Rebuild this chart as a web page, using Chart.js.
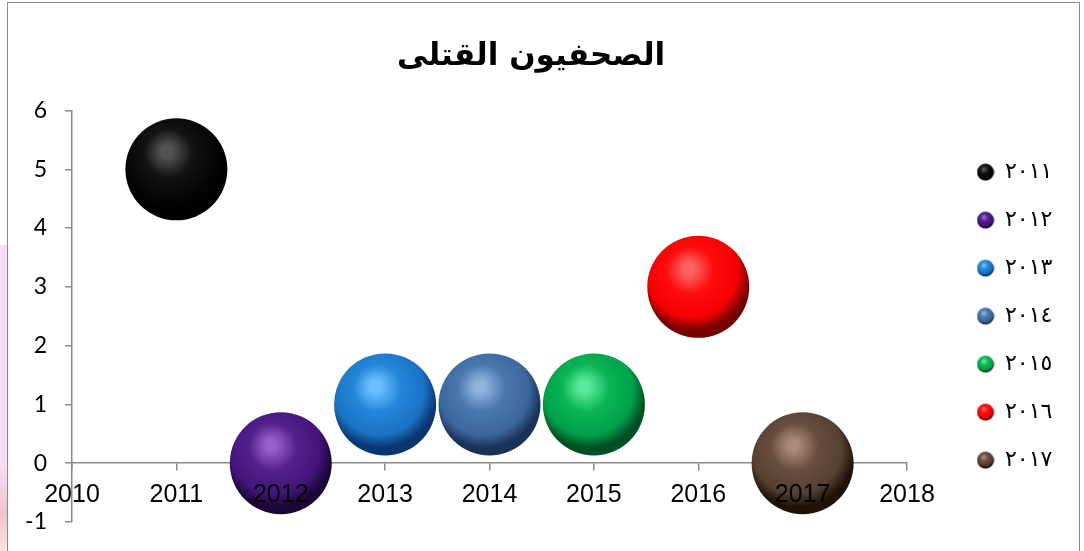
<!DOCTYPE html>
<html lang="ar">
<head>
<meta charset="utf-8">
<title>الصحفيون القتلى</title>
<script src="https://cdn.jsdelivr.net/npm/chart.js@4/dist/chart.umd.min.js"></script>
<style>
  html, body { margin: 0; padding: 0; background: #ffffff; overflow: hidden; }
  #wrap { position: relative; width: 1084px; height: 551px; }
  #side { position: absolute; left: 0; top: 245px; width: 7px; height: 306px;
          background: linear-gradient(to bottom, #f9dcf5 0%, #f9dcf5 72%, #f3c3cc 88%, #fbe3e6 100%); }
  #chart { position: absolute; left: 0; top: 0; }
  #frame { position: absolute; left: 7px; top: 2px; width: 1071px; height: 570px;
           border: 1px solid #8a8a8a; pointer-events: none; }
</style>
</head>
<body>
<div id="wrap">
  <div id="side"></div>
  <canvas id="chart" width="1084" height="551"></canvas>
  <div id="frame"></div>
</div>
<script>
// Journalists killed per year
const seriesLabels = ['٢٠١١', '٢٠١٢', '٢٠١٣', '٢٠١٤', '٢٠١٥', '٢٠١٦', '٢٠١٧'];
const years = [2011, 2012, 2013, 2014, 2015, 2016, 2017];
const killed = [5, 0, 1, 1, 1, 3, 0];
const bubbleSize = [1, 1, 1, 1, 1, 1, 1];
const xRange = [2010, 2018];
const yRange = [-1, 6];

// Sphere shading colours per series (highlight, body, shadow)
const shades = [
  { hi: '#545454', mid: '#141414', base: '#050505', dark: '#000000' },
  { hi: '#9560cc', mid: '#53208c', base: '#43157a', dark: '#1c0638' },
  { hi: '#6cc0ff', mid: '#2486da', base: '#1a72c4', dark: '#0a3670' },
  { hi: '#8fb3de', mid: '#4a77ae', base: '#3d679c', dark: '#1a3258' },
  { hi: '#5ae89c', mid: '#0ab556', base: '#00a04a', dark: '#004f22' },
  { hi: '#ff6262', mid: '#ff0c0c', base: '#f40000', dark: '#760000' },
  { hi: '#aa8a7a', mid: '#684e3e', base: '#56402f', dark: '#211208' }
];
const BUBBLE_RADIUS = 51;

function sphereGradient(ctx, cx, cy, r, s) {
  const g = ctx.createRadialGradient(cx - 0.2 * r, cy - 0.36 * r, 0,
                                     cx - 0.08 * r, cy - 0.25 * r, 1.3 * r);
  g.addColorStop(0, s.hi);
  g.addColorStop(0.08, s.hi);
  g.addColorStop(0.36, s.mid);
  g.addColorStop(0.68, s.base);
  g.addColorStop(0.86, s.dark);
  g.addColorStop(1, s.dark);
  return g;
}

function legendIcon(s) {
  const c = document.createElement('canvas');
  c.width = 18; c.height = 18;
  const cx = c.getContext('2d');
  cx.fillStyle = sphereGradient(cx, 9, 9, 8.5, s);
  cx.beginPath();
  cx.arc(9, 9, 8.5, 0, Math.PI * 2);
  cx.fill();
  return c;
}
const legendIcons = shades.map(legendIcon);

// Legend metrics: the legend box width follows its widest label
const LEGEND_FONT = { family: '"DejaVu Sans", sans-serif', size: 22 };
const LEGEND_PAD = 26;
const LEGEND_BOX = 17;
const measure = document.createElement('canvas').getContext('2d');
measure.font = LEGEND_FONT.size + 'px ' + LEGEND_FONT.family;
const legendTextW = Math.max(...seriesLabels.map(t => measure.measureText(t).width));
const legendW = LEGEND_PAD + LEGEND_BOX + LEGEND_FONT.size / 2 + legendTextW + 10;
const PLOT_RIGHT = 907;
const LEGEND_LEFT = 951;
const RIGHT_PAD = 1084 - LEGEND_LEFT - legendW;

const datasets = seriesLabels.map((label, i) => ({
  label,
  data: [{ x: years[i], y: killed[i], r: bubbleSize[i] * BUBBLE_RADIUS }],
  xAxisID: 'x',
  yAxisID: 'y',
  borderWidth: 0,
  hoverBorderWidth: 0,
  hoverRadius: 0,
  clip: false,
  backgroundColor: (ctx) => {
    const s = shades[i];
    const chart = ctx.chart;
    if (ctx.type !== 'data' || !chart.scales.x || !chart.scales.y) return s.base;
    const px = chart.scales.x.getPixelForValue(ctx.raw.x);
    const py = chart.scales.y.getPixelForValue(ctx.raw.y);
    if (!isFinite(px) || !isFinite(py)) return s.base;
    return sphereGradient(chart.ctx, px, py, ctx.raw.r, s);
  }
}));

const axisGrey = '#8a8a8a';
// axes pinned at y = 0 take no layout space of their own
const flatX = (s) => { s.height = 0; s.paddingLeft = 0; s.paddingRight = 0; };

new Chart(document.getElementById('chart'), {
  type: 'bubble',
  data: { datasets },
  options: {
    responsive: false,
    animation: false,
    events: [],
    layout: { autoPadding: false, padding: { left: 0, right: RIGHT_PAD, top: 0, bottom: 29 } },
    plugins: {
      tooltip: { enabled: false },
      title: {
        display: true,
        text: 'الصحفيون القتلى',
        color: '#000000',
        font: { family: '"DejaVu Sans", sans-serif', size: 31, weight: 'bold', lineHeight: 1.2 },
        padding: { top: 38, bottom: 35.3 }
      },
      legend: {
        position: 'right',
        align: 'center',
        fullSize: false,
        labels: {
          usePointStyle: true,
          pointStyleWidth: LEGEND_BOX,
          padding: LEGEND_PAD,
          color: '#000000',
          font: LEGEND_FONT,
          generateLabels: (chart) => chart.data.datasets.map((ds, i) => ({
            text: ds.label,
            datasetIndex: i,
            pointStyle: legendIcons[i],
            fillStyle: 'rgba(0,0,0,0)',
            strokeStyle: 'rgba(0,0,0,0)',
            lineWidth: 0,
            fontColor: '#000000',
            hidden: !chart.isDatasetVisible(i)
          }))
        }
      }
    },
    scales: {
      x: {
        type: 'linear',
        min: xRange[0],
        max: xRange[1],
        position: { y: 0 },
        afterFit: flatX,
        ticks: { stepSize: 1, display: false },
        grid: { drawOnChartArea: false, drawTicks: true, tickLength: 7, color: axisGrey, lineWidth: 1.5 },
        border: { display: true, color: axisGrey, width: 1.5 }
      },
      xLabels: {
        type: 'linear',
        axis: 'x',
        min: xRange[0],
        max: xRange[1],
        position: { y: 0 },
        afterFit: flatX,
        grid: { display: false, drawTicks: false },
        border: { display: false },
        ticks: {
          z: 1,
          stepSize: 1,
          autoSkip: false,
          maxRotation: 0,
          padding: 17,
          color: '#000000',
          font: { family: '"Liberation Sans", Arial, sans-serif', size: 25 },
          callback: (v) => String(v)
        }
      },
      y: {
        type: 'linear',
        position: 'left',
        min: yRange[0],
        max: yRange[1],
        afterFit: (s) => { s.width = 72; s.paddingTop = 0; s.paddingBottom = 0; },
        ticks: {
          stepSize: 1,
          padding: 18,
          color: '#000000',
          font: { family: 'Lato, "Open Sans", sans-serif', size: 23 }
        },
        grid: { drawOnChartArea: false, drawTicks: true, tickLength: 7, color: axisGrey, lineWidth: 1.5 },
        border: { display: true, color: axisGrey, width: 1.5 }
      },
      legendGap: {
        type: 'linear',
        axis: 'y',
        position: 'right',
        afterFit: (s) => { s.width = LEGEND_LEFT - PLOT_RIGHT; },
        ticks: { display: false },
        grid: { display: false, drawTicks: false },
        border: { display: false }
      }
    }
  }
});
</script>
</body>
</html>
